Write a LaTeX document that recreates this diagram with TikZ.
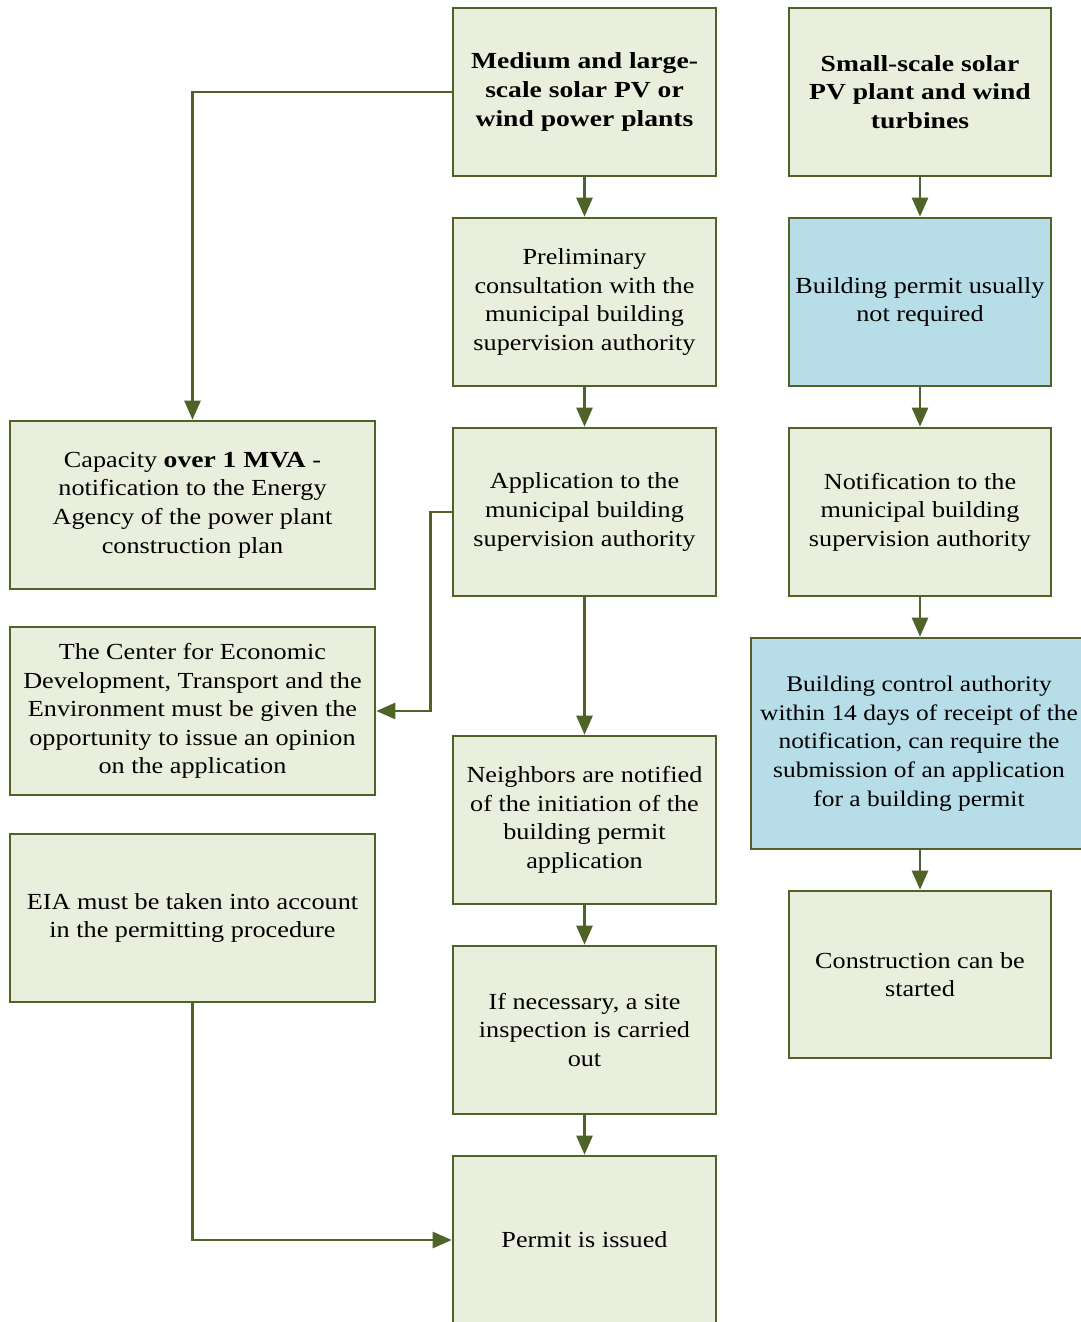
\documentclass[tikz,border=0pt]{standalone}
\usepackage{fontspec}
\setmainfont[FakeStretch=1.14, BoldFeatures={FakeStretch=1.2}]{Liberation Serif}
\usetikzlibrary{arrows.meta}
\definecolor{olive}{HTML}{4F6228}
\definecolor{paleleaf}{HTML}{E9EFDC}
\definecolor{paleblue}{HTML}{B7DDE8}
\begin{document}
\begin{tikzpicture}[x=1pt,y=-1pt,
  stepbox/.style={draw=olive, fill=paleleaf, line width=2.6pt, align=center,
    inner sep=0pt, minimum height=168pt, font=\fontsize{23}{28.6}\selectfont},
  midbox/.style={stepbox, minimum width=263pt},
  rightbox/.style={stepbox, minimum width=262pt},
  leftbox/.style={stepbox, minimum width=365pt},
  infobox/.style={fill=paleblue},
  titlefont/.style={font=\fontsize{23}{28.6}\selectfont\bfseries},
  flow/.style={draw=olive, line width=2.6pt, -{Triangle[length=19pt,width=16pt]}}
]
\useasboundingbox (0,0) rectangle (1081,1322);
\fill[white] (0,0) rectangle (1081,1322);

% middle column: medium and large plants
\node[midbox, titlefont] (m1) at (584.5,92) {Medium and large-\\scale solar PV or\\wind power plants};
\node[midbox] (m2) at (584.5,302) {Preliminary\\consultation with the\\municipal building\\supervision authority};
\node[midbox] (m3) at (584.5,512) {Application to the\\municipal building\\supervision authority};
\node[midbox] (m4) at (584.5,820) {Neighbors are notified\\of the initiation of the\\building permit\\application};
\node[midbox] (m5) at (584.5,1030) {If necessary, a site\\inspection is carried\\out};
\node[midbox] (m6) at (584.5,1240) {Permit is issued};

% right column: small-scale plants
\node[rightbox, titlefont] (r1) at (920,92) {Small-scale solar\\PV plant and wind\\turbines};
\node[rightbox, infobox] (r2) at (920,302) {Building permit usually\\not required};
\node[rightbox] (r3) at (920,512) {Notification to the\\municipal building\\supervision authority};
\node[stepbox, infobox, minimum width=336pt, minimum height=211pt,
  font=\fontsize{22.3}{28.6}\selectfont] (r4) at (919,743.5) {Building control authority\\within 14 days of receipt of the\\notification, can require the\\submission of an application\\for a building permit};
\node[rightbox, minimum height=167pt] (r5) at (920,974.5) {Construction can be\\started};

% left column: side requirements
\node[leftbox] (l1) at (192.5,505) {Capacity \textbf{over 1 MVA} -\\notification to the Energy\\Agency of the power plant\\construction plan};
\node[leftbox] (l2) at (192.5,711) {The Center for Economic\\Development, Transport and the\\Environment must be given the\\opportunity to issue an opinion\\on the application};
\node[leftbox] (l3) at (192.5,918) {EIA must be taken into account\\in the permitting procedure};

% connectors
\draw[flow] (m1) -- (m2);
\draw[flow] (m2) -- (m3);
\draw[flow] (m3) -- (m4);
\draw[flow] (m4) -- (m5);
\draw[flow] (m5) -- (m6);
\draw[flow] (r1) -- (r2);
\draw[flow] (r2) -- (r3);
\draw[flow] (r3) -- (r4.north -| r3.south);
\draw[flow] (r4.south -| r5.north) -- (r5);
\draw[flow] (m1.west) -| (l1.north);
\draw[flow] (m3.west) -- ++(-21,0) |- (l2.east);
\draw[flow] (l3.south) |- (m6.west);
\end{tikzpicture}
\end{document}
